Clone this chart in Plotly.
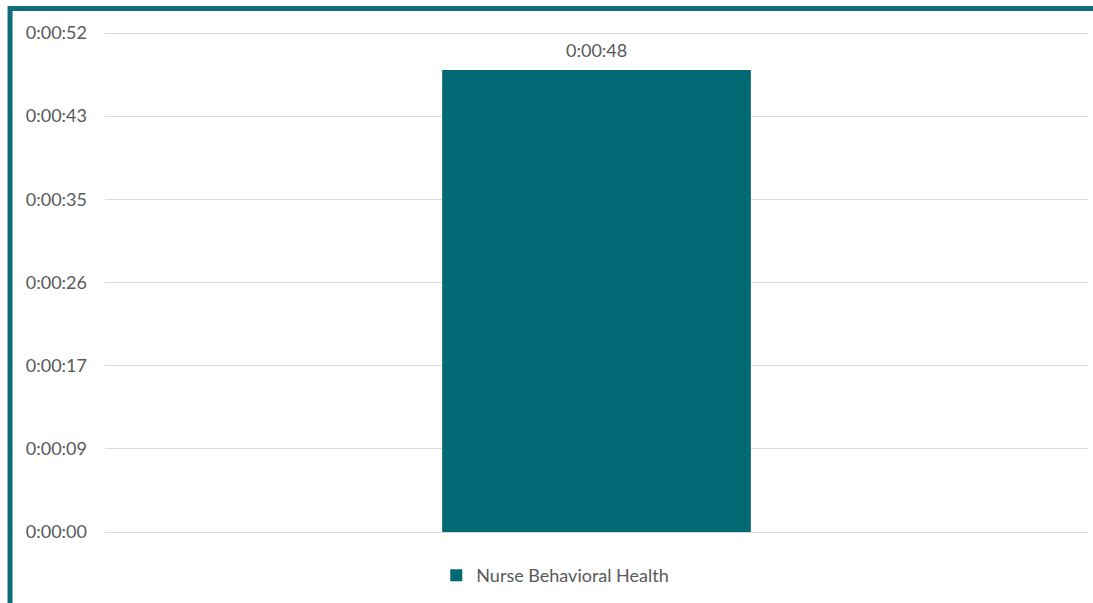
import plotly.graph_objects as go

# data
categories = ["Nurse Behavioral Health"]
avg_seconds = [48]
tick_seconds = [0, 8.64, 17.28, 25.92, 34.56, 43.2, 51.84]
tick_labels = ["0:00:00", "0:00:09", "0:00:17", "0:00:26", "0:00:35", "0:00:43", "0:00:52"]

TEAL = "#006974"
BORDER = "#0f6d79"
GREY_TEXT = "#595959"


def fmt_hms(sec):
    s = int(round(sec))
    return f"{s // 3600}:{(s % 3600) // 60:02d}:{s % 60:02d}"


fig = go.Figure()
fig.add_trace(go.Bar(
    x=categories,
    y=avg_seconds,
    name=categories[0],
    marker=dict(color=TEAL, line=dict(width=0)),
    showlegend=True,
    hovertemplate="%{y}s<extra></extra>",
))

# data label above the bar
for c, v in zip(categories, avg_seconds):
    fig.add_annotation(x=c, y=v, text=fmt_hms(v), showarrow=False,
                       yanchor="bottom", yshift=7,
                       font=dict(size=18, color=GREY_TEXT))

fig.update_xaxes(showticklabels=False, showgrid=False, zeroline=False, showline=False)
# plotly drops gridlines sitting on the plot edge, so pad the range by ~2px
pad = 0.2078
fig.update_yaxes(
    range=[-pad, tick_seconds[-1] + pad],
    tickvals=tick_seconds,
    ticktext=tick_labels,
    showgrid=True,
    gridcolor="#d9d9d9",
    gridwidth=1,
    zeroline=False,
    showline=False,
    tickfont=dict(size=18, color=GREY_TEXT),
    ticklabelstandoff=17,
)

# frame round the chart (only left and top fall inside the picture)
fig.add_shape(type="rect", xref="paper", yref="paper",
              x0=-0.0966, x1=1.2, y0=-0.4, y1=1.0447,
              line=dict(color=BORDER, width=5), fillcolor="rgba(0,0,0,0)", layer="above")

fig.update_layout(
    width=1093,
    height=603,
    margin=dict(l=105, r=5, t=31, b=69),
    paper_bgcolor="white",
    plot_bgcolor="white",
    bargap=0.686,
    font=dict(family="Lato, 'Open Sans', sans-serif", size=18, color=GREY_TEXT),
    legend=dict(
        orientation="h",
        x=0.337, xanchor="left",
        y=-0.0456, yanchor="top",
        font=dict(size=18, color=GREY_TEXT),
        itemwidth=30,
    ),
)

fig.write_html("out.html", config={"displayModeBar": False},
               post_script="document.body.style.margin='0';")
